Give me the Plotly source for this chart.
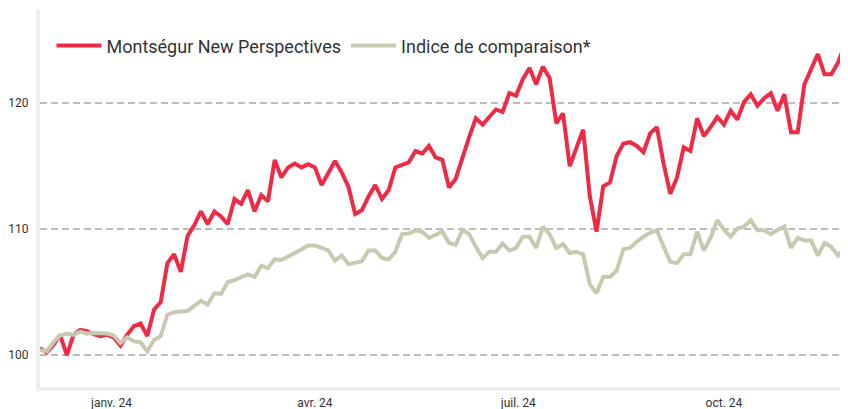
import pandas as pd
import plotly.graph_objects as go

# Sampling dates (every 3 calendar days)
dates = pd.date_range("2023-11-30", periods=122, freq="3D")

montsegur = [
    100.55, 100.2, 100.8, 101.6, 100.0, 101.6, 102.0, 101.9, 101.65, 101.5,
    101.6, 101.4, 100.75, 101.6, 102.3, 102.5, 101.5, 103.6, 104.2, 107.3,
    108.0, 106.6, 109.45, 110.3, 111.4, 110.4, 111.4, 111.0, 110.4, 112.4,
    112.0, 113.1, 111.4, 112.7, 112.2, 115.5, 114.1, 114.9, 115.2, 114.9,
    115.15, 114.9, 113.5, 114.4, 115.4, 114.5, 113.35, 111.2, 111.5, 112.6,
    113.5, 112.4, 113.1, 114.9, 115.1, 115.3, 116.2, 116.0, 116.6, 115.7,
    115.5, 113.3, 114.0, 115.7, 117.3, 118.8, 118.3, 118.9, 119.5, 119.3,
    120.8, 120.6, 121.9, 122.8, 121.5, 122.9, 122.0, 118.4, 119.2, 115.0,
    116.4, 117.9, 112.6, 109.8, 113.4, 113.7, 115.8, 116.8, 116.9, 116.6,
    116.1, 117.6, 118.1, 115.2, 112.8, 114.1, 116.5, 116.2, 118.8, 117.4,
    118.1, 118.9, 118.3, 119.4, 118.7, 120.1, 120.7, 119.8, 120.4, 120.8,
    119.4, 120.7, 117.7, 117.7, 121.5, 122.8, 123.9, 122.3, 122.3, 123.2,
    124.6, 125.0,
]

indice = [
    100.4, 100.3, 101.0, 101.55, 101.7, 101.6, 101.85, 101.7, 101.75, 101.7,
    101.7, 101.55, 100.95, 101.4, 101.1, 101.0, 100.3, 101.2, 101.5, 103.2,
    103.4, 103.45, 103.5, 103.9, 104.3, 104.0, 104.9, 104.85, 105.8, 105.95,
    106.2, 106.4, 106.2, 107.1, 106.9, 107.6, 107.55, 107.8, 108.1, 108.4,
    108.7, 108.7, 108.5, 108.3, 107.5, 107.9, 107.2, 107.3, 107.45, 108.3,
    108.3, 107.7, 107.6, 108.2, 109.6, 109.65, 109.9, 109.8, 109.3, 109.55,
    109.8, 108.9, 108.75, 109.95, 109.6, 108.6, 107.7, 108.2, 108.2, 108.85,
    108.3, 108.5, 109.4, 109.4, 108.5, 110.2, 109.6, 108.5, 108.8, 108.1,
    108.2, 108.0, 105.6, 104.9, 106.2, 106.2, 106.7, 108.4, 108.5, 109.0,
    109.4, 109.7, 109.9, 108.6, 107.4, 107.3, 108.0, 108.0, 109.8, 108.3,
    109.3, 110.7, 109.95, 109.4, 110.05, 110.2, 110.7, 109.9, 109.9, 109.6,
    109.95, 110.2, 108.5, 109.3, 109.1, 109.1, 107.9, 108.9, 108.6, 107.9,
    108.55, 108.7,
]

tick_dates = ["2024-01-01", "2024-04-01", "2024-07-01", "2024-10-01"]
tick_labels = ["janv. 24", "avr. 24", "juil. 24", "oct. 24"]
y_ticks = [100, 110, 120]

RED = "#ee2a45"
BEIGE = "#c9c9b1"

fig = go.Figure()
fig.add_trace(go.Scatter(
    x=dates, y=montsegur, mode="lines", name="Montségur New Perspectives",
    line=dict(color=RED, width=4), legendrank=1,
))
fig.add_trace(go.Scatter(
    x=dates, y=indice, mode="lines", name="Indice de comparaison*",
    line=dict(color=BEIGE, width=4), legendrank=2,
))

# The page places the figure 8px from the top-left corner (body margin),
# so the figure is sized to end exactly at the window's edges.
fig.update_layout(
    width=840, height=401,
    margin=dict(l=32, r=0, t=2, b=22),
    paper_bgcolor="white", plot_bgcolor="white",
    font=dict(family="Roboto, sans-serif", color="#333333"),
    showlegend=True,
    legend=dict(
        orientation="h", x=0.0142, y=0.905, xanchor="left", yanchor="middle",
        font=dict(size=18, color="#333333"), bgcolor="rgba(0,0,0,0)",
        itemwidth=45, traceorder="normal",
    ),
)
fig.update_xaxes(
    range=["2023-11-30", "2024-11-25 12:00"],
    tickvals=tick_dates, ticktext=tick_labels,
    tickfont=dict(size=12, color="#333333"),
    showgrid=False, zeroline=False,
    showline=True, linecolor="#eeeeee", linewidth=4,
    ticks="", ticklabelstandoff=2, automargin=False,
)
fig.update_yaxes(
    range=[97.46, 127.4],
    tickvals=y_ticks,
    tickfont=dict(size=12, color="#333333"),
    showgrid=True, gridcolor="#bdbdbd", gridwidth=2, griddash="7px,4px",
    zeroline=False,
    showline=True, linecolor="#eeeeee", linewidth=4,
    ticks="", ticklabelstandoff=5, automargin=False,
)

fig.write_html("out.html")
